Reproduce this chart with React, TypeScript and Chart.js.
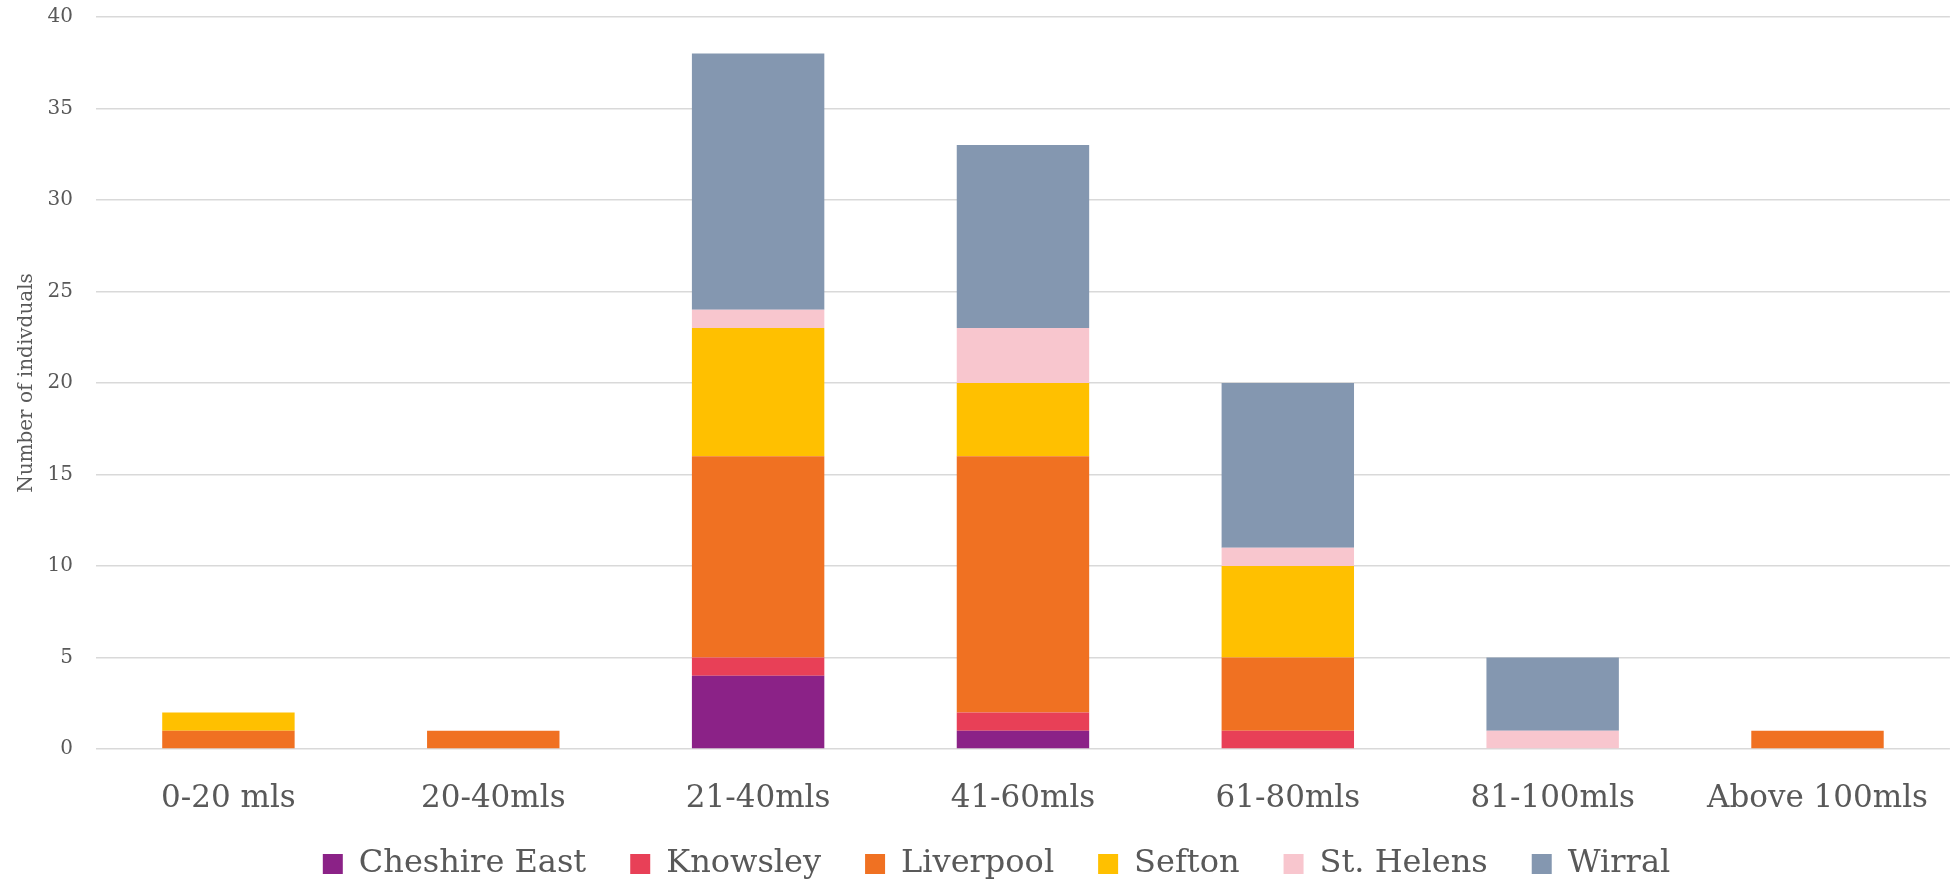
import React, { useEffect, useRef } from "react";
import { Chart, registerables } from "chart.js";

Chart.register(...registerables);

const categories = ["0-20 mls", "20-40mls", "21-40mls", "41-60mls", "61-80mls", "81-100mls", "Above 100mls"];
const seriesNames = ["Cheshire East", "Knowsley", "Liverpool", "Sefton", "St. Helens", "Wirral"];
const cheshireEast = [0, 0, 4, 1, 0, 0, 0];
const knowsley = [0, 0, 1, 1, 1, 0, 0];
const liverpool = [1, 1, 11, 14, 4, 0, 1];
const sefton = [1, 0, 7, 4, 5, 0, 0];
const stHelens = [0, 0, 1, 3, 1, 1, 0];
const wirral = [0, 0, 14, 10, 9, 4, 0];
const seriesColors = ["#8B2287", "#E84057", "#F07122", "#FFC000", "#F8C6CE", "#8497B0"];
const yTicks = { min: 0, max: 40, step: 5 };
const yTitle = "Number of indivduals";

const FONT = "'DejaVu Serif', serif";
const TEXT = "#595959";
const GRID = "#D9D9D9";

// lets the category labels extend below the x-axis box (which the legend overlaps),
// and nudges the legend to the right like the reference
const layoutTweaks = {
  id: "layoutTweaks",
  afterLayout(chart: any) {
    chart.scales.x.bottom = chart.height;
    if (chart.legend) {
      chart.legend.left += 17;
      chart.legend.right += 17;
    }
  },
};

export default function App() {
  const ref = useRef<HTMLCanvasElement | null>(null);
  useEffect(() => {
    if (!ref.current) return;
    const values = [cheshireEast, knowsley, liverpool, sefton, stHelens, wirral];
    const chart = new Chart(ref.current, {
      type: "bar",
      data: {
        labels: categories,
        datasets: seriesNames.map((name, i) => ({
          label: name,
          data: values[i],
          backgroundColor: seriesColors[i],
          borderWidth: 0,
          categoryPercentage: 1,
          barPercentage: 0.5,
        })),
      },
      plugins: [layoutTweaks],
      options: {
        responsive: false,
        animation: false,
        layout: { padding: { top: 17, left: 0, right: 0, bottom: 0 } },
        plugins: {
          tooltip: { enabled: false },
          legend: {
            position: "bottom",
            labels: {
              font: { family: FONT, size: 32 },
              color: TEXT,
              boxWidth: 20,
              boxHeight: 20,
              padding: 44,
            },
          },
        },
        scales: {
          x: {
            stacked: true,
            grid: { display: false, drawTicks: false },
            border: { display: false },
            ticks: {
              font: { family: FONT, size: 31 },
              color: TEXT,
              padding: 31,
              maxRotation: 0,
              autoSkip: false,
            },
            afterFit: (scale: any) => {
              scale.height = 55;
            },
          },
          y: {
            stacked: true,
            min: yTicks.min,
            max: yTicks.max,
            grid: { color: GRID, lineWidth: 1.5, drawTicks: false },
            border: { display: false },
            ticks: {
              stepSize: yTicks.step,
              font: { family: FONT, size: 20 },
              color: TEXT,
              padding: 23,
            },
            title: {
              display: true,
              text: yTitle,
              font: { family: FONT, size: 20 },
              color: TEXT,
              padding: { top: 15, bottom: 0 },
            },
            afterFit: (scale: any) => {
              scale.width = 96;
              scale.paddingTop = 0;
              scale.paddingBottom = 0;
            },
          },
        },
      },
    });
    return () => chart.destroy();
  }, []);
  return (
    <div style={{ position: "fixed", left: 0, top: 0, width: 1959, height: 882, overflow: "hidden", background: "#fff" }}>
      <canvas ref={ref} width={1959} height={890} style={{ display: "block", width: 1959, height: 890 }} />
    </div>
  );
}
